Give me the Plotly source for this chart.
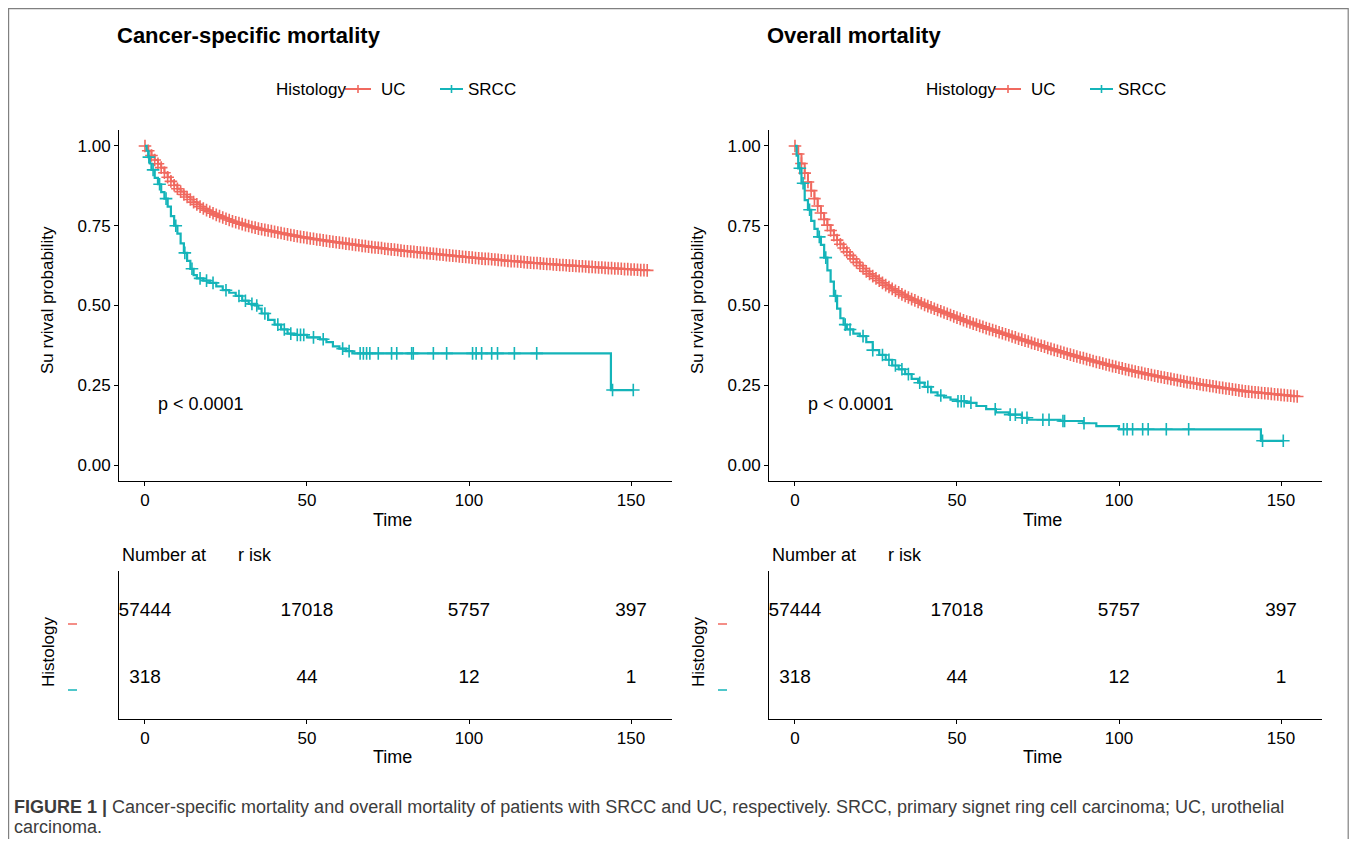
import plotly.graph_objects as go

# page body has an 8px margin; the figure fills the rest of the window without scrollbars
OFF = 8
W, H = 1357 - 2 * OFF, 847 - 2 * OFF
FONT = "Liberation Sans, Arial, sans-serif"
RED = "#F0695F"
TEAL = "#14B4B9"

# ---------------- data ----------------
months = list(range(0, 156))

csm_uc = [1.000, 0.985, 0.970, 0.956, 0.944, 0.932, 0.916, 0.902, 0.889, 0.877,
          0.866, 0.857, 0.848, 0.840, 0.832, 0.824, 0.817, 0.810, 0.804, 0.799,
          0.794, 0.789, 0.784, 0.780, 0.776, 0.772, 0.768, 0.764, 0.761, 0.758,
          0.755, 0.752, 0.749, 0.746, 0.744, 0.741, 0.739, 0.737, 0.735, 0.733,
          0.731, 0.729, 0.727, 0.725, 0.723, 0.721, 0.719, 0.717, 0.715, 0.714,
          0.712, 0.710, 0.709, 0.707, 0.706, 0.704, 0.703, 0.701, 0.700, 0.698,
          0.697, 0.696, 0.694, 0.693, 0.691, 0.690, 0.689, 0.687, 0.686, 0.684,
          0.683, 0.682, 0.681, 0.680, 0.678, 0.677, 0.676, 0.675, 0.674, 0.672,
          0.671, 0.670, 0.669, 0.668, 0.667, 0.666, 0.665, 0.664, 0.663, 0.662,
          0.661, 0.660, 0.659, 0.658, 0.657, 0.656, 0.655, 0.654, 0.653, 0.652,
          0.651, 0.650, 0.649, 0.648, 0.647, 0.646, 0.646, 0.645, 0.644, 0.643,
          0.642, 0.641, 0.640, 0.639, 0.639, 0.638, 0.637, 0.636, 0.635, 0.634,
          0.633, 0.633, 0.632, 0.631, 0.630, 0.630, 0.629, 0.628, 0.627, 0.627,
          0.626, 0.625, 0.625, 0.624, 0.623, 0.623, 0.622, 0.621, 0.621, 0.620,
          0.619, 0.619, 0.618, 0.617, 0.617, 0.616, 0.616, 0.615, 0.614, 0.614,
          0.613, 0.613, 0.612, 0.611, 0.611, 0.610]

om_uc = [1.000, 0.975, 0.945, 0.915, 0.887, 0.860, 0.835, 0.812, 0.790, 0.770,
         0.752, 0.735, 0.720, 0.705, 0.692, 0.680, 0.668, 0.657, 0.646, 0.635,
         0.625, 0.616, 0.607, 0.599, 0.592, 0.585, 0.578, 0.571, 0.564, 0.558,
         0.552, 0.546, 0.541, 0.535, 0.530, 0.525, 0.520, 0.516, 0.511, 0.507,
         0.502, 0.498, 0.494, 0.490, 0.486, 0.482, 0.478, 0.474, 0.470, 0.466,
         0.462, 0.458, 0.454, 0.450, 0.447, 0.443, 0.440, 0.436, 0.433, 0.429,
         0.426, 0.423, 0.420, 0.416, 0.413, 0.410, 0.407, 0.403, 0.400, 0.396,
         0.393, 0.390, 0.387, 0.383, 0.380, 0.377, 0.374, 0.371, 0.367, 0.364,
         0.361, 0.358, 0.355, 0.352, 0.349, 0.346, 0.343, 0.340, 0.337, 0.335,
         0.332, 0.329, 0.326, 0.323, 0.321, 0.318, 0.315, 0.313, 0.310, 0.308,
         0.305, 0.303, 0.300, 0.298, 0.295, 0.293, 0.291, 0.289, 0.286, 0.284,
         0.282, 0.280, 0.278, 0.276, 0.274, 0.272, 0.270, 0.268, 0.266, 0.264,
         0.262, 0.260, 0.258, 0.257, 0.255, 0.253, 0.251, 0.250, 0.248, 0.247,
         0.245, 0.243, 0.242, 0.240, 0.239, 0.237, 0.236, 0.234, 0.233, 0.231,
         0.230, 0.229, 0.228, 0.227, 0.226, 0.225, 0.224, 0.223, 0.222, 0.221,
         0.220, 0.219, 0.218, 0.217, 0.216, 0.215]

csm_srcc_t = [0, 0.5, 1, 1.5, 2, 3, 4, 5, 6, 7, 8, 9, 10, 11, 12, 13, 14, 15, 16, 18,
              20, 22, 24, 26, 28, 30, 32, 34, 35, 36, 38, 40, 42, 44, 46, 50, 54, 56,
              58, 60, 62, 64, 143.8]
csm_srcc_s = [1.000, 0.985, 0.965, 0.945, 0.925, 0.900, 0.880, 0.855, 0.835, 0.810,
              0.780, 0.750, 0.725, 0.695, 0.665, 0.640, 0.615, 0.595, 0.585, 0.578,
              0.571, 0.560, 0.548, 0.540, 0.530, 0.515, 0.505, 0.500, 0.490, 0.475,
              0.455, 0.440, 0.425, 0.412, 0.408, 0.400, 0.394, 0.385, 0.372, 0.365,
              0.357, 0.350, 0.235]
csm_srcc_end = 150.7
csm_srcc_cens = [1.2, 2.5, 4.5, 6.5, 9.5, 12.3, 14.5, 17, 19, 21, 25, 29, 31, 33, 34.5,
                 37, 41, 43, 45, 47, 48, 49, 52, 55, 61, 63, 66.4, 67.4, 68.4, 69.4,
                 72, 76.1, 77.7, 82.3, 82.8, 89, 93.1, 101.1, 102.2, 103.9, 107,
                 108.8, 114, 120.9, 144.3, 150.7]

om_srcc_t = [0, 0.5, 1, 2, 3, 4, 5, 6, 7, 8, 9, 10, 11, 12, 13, 14, 15, 16, 18, 20,
             22, 24, 26, 28, 30, 32, 34, 36, 38, 40, 42, 44, 46, 48, 50, 53, 56, 59,
             62, 66, 70, 72, 82, 89, 93, 100, 143.8]
om_srcc_s = [1.000, 0.970, 0.930, 0.883, 0.830, 0.800, 0.765, 0.740, 0.715, 0.690,
             0.650, 0.610, 0.575, 0.530, 0.490, 0.460, 0.440, 0.425, 0.412, 0.404,
             0.385, 0.360, 0.345, 0.330, 0.312, 0.300, 0.285, 0.270, 0.258, 0.245,
             0.228, 0.218, 0.212, 0.205, 0.200, 0.195, 0.185, 0.175, 0.165, 0.158,
             0.148, 0.142, 0.138, 0.131, 0.122, 0.112, 0.076]
om_srcc_end = 150.7
om_srcc_cens = [1.5, 2.5, 4.5, 7.5, 9.5, 12.5, 15.5, 17, 21, 24, 27, 29, 31, 33, 35,
                38.5, 41, 45, 50.3, 51.3, 52.2, 54.3, 61.8, 66.4, 68, 70.1, 71.6,
                76.5, 78.4, 82.7, 83.2, 89.2, 101.4, 102.5, 104.2, 107.3, 109,
                114.6, 121.5, 144.3, 150.7]

risk_times = [0, 50, 100, 150]
risk_uc = [57444, 17018, 5757, 397]
risk_srcc = [318, 44, 12, 1]

x_ticks = [0, 50, 100, 150]
y_ticks = [0, 0.25, 0.5, 0.75, 1.0]
y_ticktext = ["0.00", "0.25", "0.50", "0.75", "1.00"]

titles = ["Cancer-specific mortality", "Overall mortality"]
groups = ["UC", "SRCC"]
caption_bold = "FIGURE 1 |"
caption_1 = " Cancer-specific mortality and overall mortality of patients with SRCC and UC, respectively. SRCC, primary signet ring cell carcinoma; UC, urothelial"
caption_2 = "carcinoma."


# ---------------- helpers (window pixel -> paper) ----------------
def px(x):
    return (x - OFF) / W


def py(y):
    return 1 - (y - OFF) / H


def surv_at(times, vals, t):
    s = vals[0]
    for ti, vi in zip(times, vals):
        if ti <= t:
            s = vi
    return s


fig = go.Figure()

panels = [
    dict(uc=csm_uc, st=csm_srcc_t, ss=csm_srcc_s, end=csm_srcc_end, cens=csm_srcc_cens,
         xa="x", ya="y", rxa="x3", rya="y3"),
    dict(uc=om_uc, st=om_srcc_t, ss=om_srcc_s, end=om_srcc_end, cens=om_srcc_cens,
         xa="x2", ya="y2", rxa="x4", rya="y4"),
]

for p in panels:
    fig.add_trace(go.Scatter(
        x=months, y=p["uc"], xaxis=p["xa"], yaxis=p["ya"], mode="lines+markers",
        line=dict(color=RED, width=2, shape="hv"),
        marker=dict(symbol="cross-thin", size=9, line=dict(color=RED, width=1.6)),
        showlegend=False, hoverinfo="skip"))
    fig.add_trace(go.Scatter(
        x=p["st"] + [p["end"]], y=p["ss"] + [p["ss"][-1]],
        xaxis=p["xa"], yaxis=p["ya"], mode="lines",
        line=dict(color=TEAL, width=2.2, shape="hv"),
        showlegend=False, hoverinfo="skip"))
    fig.add_trace(go.Scatter(
        x=p["cens"], y=[surv_at(p["st"], p["ss"], t) for t in p["cens"]],
        xaxis=p["xa"], yaxis=p["ya"], mode="markers",
        marker=dict(symbol="cross-thin", size=9, line=dict(color=TEAL, width=1.6)),
        showlegend=False, hoverinfo="skip"))
    fig.add_trace(go.Scatter(
        x=risk_times, y=[2] * len(risk_times), text=[str(v) for v in risk_uc],
        xaxis=p["rxa"], yaxis=p["rya"], mode="text",
        textfont=dict(family=FONT, size=19, color="black"),
        showlegend=False, hoverinfo="skip", cliponaxis=False))
    fig.add_trace(go.Scatter(
        x=risk_times, y=[1] * len(risk_times), text=[str(v) for v in risk_srcc],
        xaxis=p["rxa"], yaxis=p["rya"], mode="text",
        textfont=dict(family=FONT, size=19, color="black"),
        showlegend=False, hoverinfo="skip", cliponaxis=False))

XR = [-8.02, 162.65]
common_x = dict(range=XR, tickvals=x_ticks, ticks="outside", ticklen=4, tickwidth=1,
                tickcolor="black", showline=True, linecolor="black", linewidth=1,
                showgrid=False, zeroline=False,
                tickfont=dict(family=FONT, size=17, color="black"))
common_y = dict(range=[-0.05, 1.05], tickvals=y_ticks, ticktext=y_ticktext,
                ticks="outside", ticklen=4, tickwidth=1, tickcolor="black",
                showline=True, linecolor="black", linewidth=1, showgrid=False,
                zeroline=False, tickfont=dict(family=FONT, size=17, color="black"))
risk_y = dict(range=[0.4, 2.6], showticklabels=False, ticks="", showline=True,
              linecolor="black", linewidth=1, showgrid=False, zeroline=False)

offsets = [0, 650]
layout = dict(
    width=W, height=H, autosize=False,
    margin=dict(l=0, r=0, t=0, b=0),
    paper_bgcolor="white", plot_bgcolor="white",
    showlegend=False,
    xaxis=dict(domain=[px(119), px(672)], anchor="y", **common_x),
    yaxis=dict(domain=[py(481), py(130)], anchor="x", **common_y),
    xaxis2=dict(domain=[px(769), px(1322)], anchor="y2", **common_x),
    yaxis2=dict(domain=[py(481), py(130)], anchor="x2", **common_y),
    xaxis3=dict(domain=[px(119), px(672)], anchor="y3", **common_x),
    yaxis3=dict(domain=[py(719), py(571)], anchor="x3", **risk_y),
    xaxis4=dict(domain=[px(769), px(1322)], anchor="y4", **common_x),
    yaxis4=dict(domain=[py(719), py(571)], anchor="x4", **risk_y),
)

ann = []
shapes = []


def text_ann(text, x, y, size, xanchor="left", angle=0, color="black"):
    return dict(text=text, x=px(x), y=py(y), xref="paper", yref="paper",
                xanchor=xanchor, yanchor="middle", textangle=angle, showarrow=False,
                font=dict(family=FONT, size=size, color=color))


for i, off in enumerate(offsets):
    xa = "x" if i == 0 else "x2"
    ya = "y" if i == 0 else "y2"
    ann.append(text_ann("<b>" + titles[i] + "</b>", 115 + off, 35, 22))
    ann.append(text_ann("Histology", 274 + off, 89, 17))
    ann.append(text_ann(groups[0], 379 + off, 89, 17))
    ann.append(text_ann(groups[1], 466 + off, 89, 17))
    for (x0, x1, col) in [(345, 371, RED), (440, 463, TEAL)]:
        shapes.append(dict(type="line", xref="paper", yref="paper",
                           x0=px(x0 + off), x1=px(x1 + off), y0=py(89), y1=py(89),
                           line=dict(color=col, width=2)))
        cx = (x0 + x1) / 2 + off
        shapes.append(dict(type="line", xref="paper", yref="paper",
                           x0=px(cx), x1=px(cx), y0=py(85), y1=py(93),
                           line=dict(color=col, width=1.6)))
    ann.append(text_ann("Su rvival probability", 48 + off, 300, 17, "center", -90))
    for yy in (520, 757):
        ann.append(text_ann("Time", 392 + off, yy, 18, "center"))
    ann.append(dict(text="p < 0.0001", x=3.4, y=0.19, xref=xa, yref=ya,
                    xanchor="left", yanchor="middle", showarrow=False,
                    font=dict(family=FONT, size=18, color="black")))
    ann.append(text_ann("Number at", 120 + off, 555, 18))
    ann.append(text_ann("r isk", 236 + off, 555, 18))
    ann.append(text_ann("Histology", 48 + off, 652, 17, "center", -90))
    for (yy, col) in [(624, RED), (690, TEAL)]:
        shapes.append(dict(type="line", xref="paper", yref="paper",
                           x0=px(68 + off), x1=px(77 + off), y0=py(yy), y1=py(yy),
                           line=dict(color=col, width=1.5)))

ann.append(text_ann("<b>" + caption_bold + "</b>" + caption_1, 12, 807, 18, color="#3c3c3c"))
ann.append(dict(text=caption_2, x=px(12), y=0, xref="paper", yref="paper",
                xanchor="left", yanchor="bottom", showarrow=False,
                font=dict(family=FONT, size=18, color="#3c3c3c")))

# frame around the figure (right edge at the div's edge)
shapes.append(dict(type="rect", xref="paper", yref="paper", x0=px(8.6), x1=px(OFF + W - 0.8),
                   y0=py(870), y1=py(8.6), line=dict(color="#808080", width=1.2),
                   fillcolor="rgba(0,0,0,0)"))

layout["annotations"] = ann
layout["shapes"] = shapes
fig.update_layout(**layout)

fig.write_html("out.html")
